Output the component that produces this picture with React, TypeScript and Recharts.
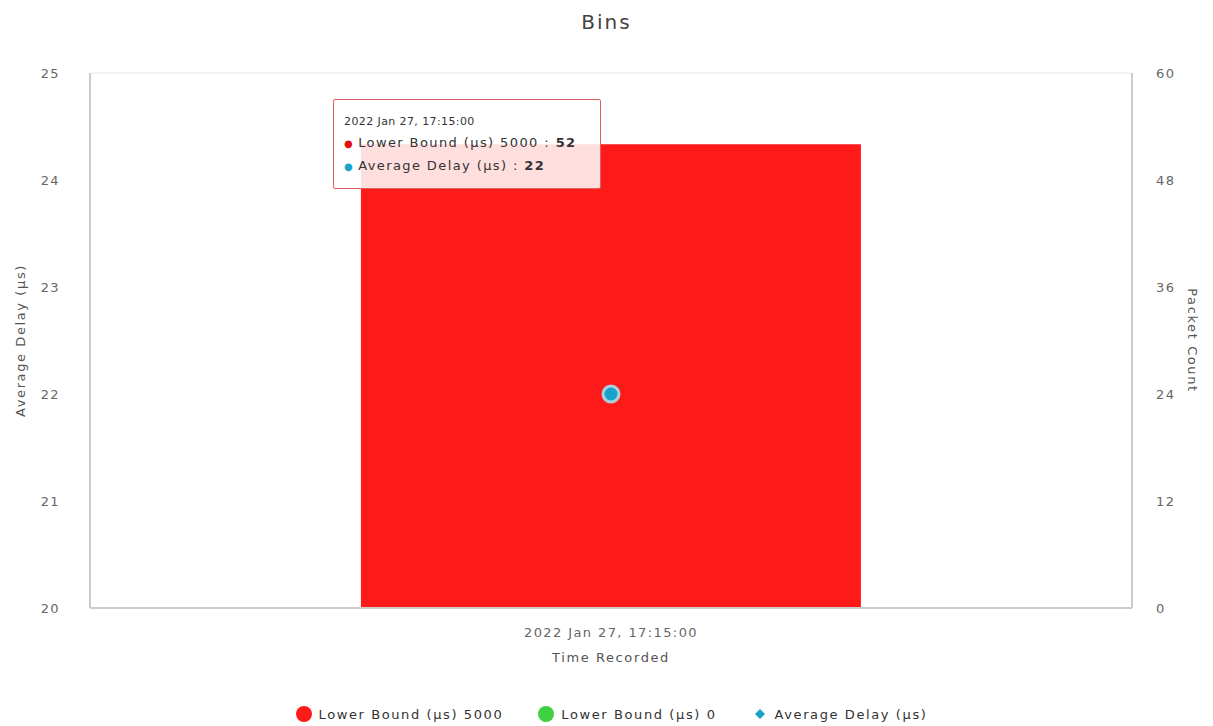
import React from 'react';
import { ComposedChart, Bar, Line, XAxis, YAxis, CartesianGrid, Tooltip, Legend } from 'recharts';

const times = ['2022 Jan 27, 17:15:00'];
const bound5000 = [52];
const bound0 = [0];
const avgDelay = [22];

const delayTicks = [20, 21, 22, 23, 24, 25];
const countTicks = [0, 12, 24, 36, 48, 60];

const legendItems = [
  { name: 'Lower Bound (µs) 5000', color: '#ff1a1a', shape: 'circle' },
  { name: 'Lower Bound (µs) 0', color: '#3fd13f', shape: 'circle' },
  { name: 'Average Delay (µs)', color: '#1aa3c8', shape: 'diamond' },
];

const FONT = '"DejaVu Sans", "Open Sans", sans-serif';
const tickStyle = { fill: '#666', fontSize: 13, fontFamily: FONT, letterSpacing: 1.4 };
const labelStyle = { fill: '#555', fontSize: 13, fontFamily: FONT, letterSpacing: 1.6 };

const BinsLegend = () => (
  <div style={{ height: 64, display: 'flex', justifyContent: 'center', alignItems: 'flex-end', paddingBottom: 3, boxSizing: 'border-box', gap: 34, fontFamily: FONT, fontSize: 13, letterSpacing: 1.6, color: '#333' }}>
    {legendItems.map((it) => (
      <div key={it.name} style={{ display: 'flex', alignItems: 'center', gap: 6 }}>
        <svg width={18} height={18}>
          {it.shape === 'circle' ? (
            <circle cx={9} cy={9} r={8} fill={it.color} />
          ) : (
            <path d="M9 4 L14 9 L9 14 L4 9 Z" fill={it.color} />
          )}
        </svg>
        <span>{it.name}</span>
      </div>
    ))}
  </div>
);

const BinsTooltip = ({ active, payload, label }: any) => {
  if (!active || !payload || !payload.length) return null;
  const rows = payload.filter((p: any) => p.dataKey !== 'b0');
  return (
    <div style={{
      background: 'rgba(255,255,255,0.86)', border: '1px solid #e06060', borderRadius: 2,
      padding: '15px 8px 10px 10px', fontFamily: FONT, color: '#333', width: 268, boxSizing: 'border-box',
    }}>
      <div style={{ fontSize: 11, letterSpacing: 0.4, marginBottom: 4 }}>{label}</div>
      {rows.map((p: any) => (
        <div key={p.dataKey} style={{ fontSize: 13, letterSpacing: 1.4, lineHeight: '22px', whiteSpace: 'nowrap' }}>
          <span style={{ color: p.dataKey === 'avg' ? '#1aa3c8' : '#e01010', fontSize: 10, marginRight: 4 }}>●</span>
          {p.name} : <b>{p.value}</b>
        </div>
      ))}
    </div>
  );
};

export default function App() {
  const data = times.map((t, i) => ({ time: t, b5000: bound5000[i], b0: bound0[i], avg: avgDelay[i] }));

  return (
    <div style={{ position: 'absolute', left: 0, top: 0, width: 1213, height: 726, background: '#fff' }}>
      <div style={{ position: 'absolute', left: 0, top: 10, width: 1213, textAlign: 'center', fontFamily: FONT, fontSize: 20, letterSpacing: 2, color: '#444' }}>
        Bins
      </div>
      <ComposedChart width={1213} height={726} data={data} barCategoryGap="26%"
        margin={{ top: 73, right: 21, bottom: 0, left: 30 }}>
        <CartesianGrid stroke="#e8e8e8" vertical={false} />
        <XAxis dataKey="time" tick={tickStyle} height={54}
          axisLine={{ stroke: '#cccccc', strokeWidth: 2 }} tickLine={false} tickMargin={14}
          label={{ value: 'Time Recorded', position: 'insideBottom', offset: 0, ...labelStyle }} />
        <YAxis yAxisId="delay" domain={[20, 25]} ticks={delayTicks} width={60}
          tick={tickStyle} axisLine={{ stroke: '#cccccc', strokeWidth: 2 }}
          tickLine={false} tickMargin={24}
          label={{ value: 'Average Delay (µs)', angle: -90, position: 'insideLeft', offset: -10, ...labelStyle, style: { textAnchor: 'middle' } }} />
        <YAxis yAxisId="count" orientation="right" domain={[0, 60]} ticks={countTicks} width={60}
          tick={tickStyle} axisLine={{ stroke: '#cccccc', strokeWidth: 2 }}
          tickLine={false} tickMargin={18}
          label={{ value: 'Packet Count', angle: 90, position: 'insideRight', offset: -1, ...labelStyle, style: { textAnchor: 'middle' } }} />
        <Tooltip content={<BinsTooltip />} active defaultIndex={0} cursor={false}
          position={{ x: 333, y: 99 }} isAnimationActive={false} />
        <Legend verticalAlign="bottom" height={64} content={() => <BinsLegend />} />
        <Bar yAxisId="count" dataKey="b5000" name="Lower Bound (µs) 5000" stackId="s" fill="#ff1a1a" isAnimationActive={false} />
        <Bar yAxisId="count" dataKey="b0" name="Lower Bound (µs) 0" stackId="s" fill="#3fd13f" isAnimationActive={false} />
        <Line yAxisId="delay" dataKey="avg" name="Average Delay (µs)" stroke="#1aa3c8"
          dot={{ r: 8, fill: '#1aa3c8', stroke: '#a8d0e0', strokeWidth: 3 }} activeDot={false} isAnimationActive={false} />
      </ComposedChart>
    </div>
  );
}
